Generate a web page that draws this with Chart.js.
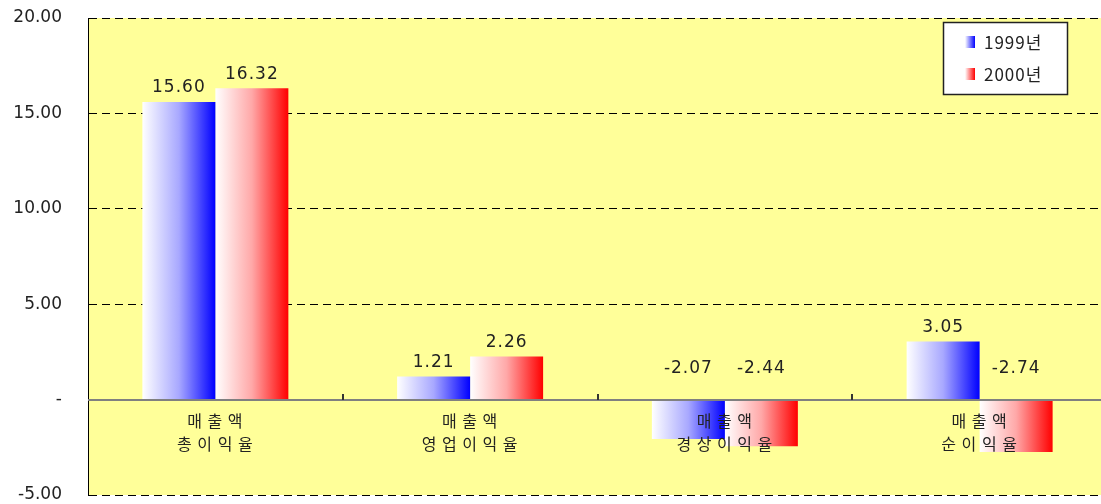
<!DOCTYPE html>
<html>
<head>
<meta charset="utf-8">
<script src="https://cdn.jsdelivr.net/npm/chart.js@4/dist/chart.umd.min.js"></script>
<style>
  html, body { margin: 0; padding: 0; background: #ffffff; overflow: hidden; }
  #wrap { width: 1108px; height: 504px; }
</style>
</head>
<body>
<div id="wrap"><canvas id="grafica"></canvas></div>
<script>
// 매출액 대비 이익율 (1999년 / 2000년)
const categorias = [
  ["매 출 액", "총 이 익 율"],
  ["매 출 액", "영 업 이 익 율"],
  ["매 출 액", "경 상 이 익 율"],
  ["매 출 액", "순 이 익 율"]
];
const series_nombres = ["1999년", "2000년"];
const valores_1999 = [15.60, 1.21, -2.07, 3.05];
const valores_2000 = [16.32, 2.26, -2.44, -2.74];
const colores = ["#0000ff", "#ff0000"];
const medios = ["#a8a8ff", "#ffa8a8"];

const catPct = 0.573;
const fuenteNum = "DejaVu Sans";
const fuenteKr = "'Noto Sans CJK KR', 'DejaVu Sans'";

// degradado horizontal blanco -> color para cada barra
function rellenoBarra(ctx) {
  const color = colores[ctx.datasetIndex];
  const chart = ctx.chart;
  const x = chart.scales.x;
  if (!x || ctx.type !== 'data') return color;
  const centro = x.getPixelForValue(ctx.dataIndex);
  const w = (x.width / categorias.length) * catPct / 2;
  if (!isFinite(centro) || !isFinite(w) || w <= 0) return color;
  const izq = ctx.datasetIndex === 0 ? centro - w : centro;
  const g = chart.ctx.createLinearGradient(izq, 0, izq + w, 0);
  g.addColorStop(0, "#ffffff");
  g.addColorStop(0.5, medios[ctx.datasetIndex]);
  g.addColorStop(1, color);
  return g;
}

const fondoAmarillo = {
  id: 'fondoAmarillo',
  beforeDraw(chart) {
    const { ctx, chartArea: a } = chart;
    ctx.save();
    ctx.fillStyle = "#ffff99";
    ctx.fillRect(a.left, a.top, a.right - a.left, a.bottom - a.top);
    ctx.restore();
  }
};

// linea de cero, nombres de categoria, valores, marcas y leyenda
const extras = {
  id: 'extras',
  afterDraw(chart) {
    const { ctx, chartArea: a } = chart;
    const x = chart.scales.x;
    const y = chart.scales.y;
    const cero = Math.round(y.getPixelForValue(0));
    ctx.save();

    // linea de cero
    ctx.strokeStyle = "#808080";
    ctx.lineWidth = 2;
    ctx.beginPath();
    ctx.moveTo(a.left, cero);
    ctx.lineTo(a.right, cero);
    ctx.stroke();

    // marcas entre categorias
    ctx.strokeStyle = "#333333";
    for (let i = 1; i < categorias.length; i++) {
      const px = Math.round(x.getPixelForValue(i - 0.5));
      ctx.beginPath();
      ctx.moveTo(px, cero - 6);
      ctx.lineTo(px, cero);
      ctx.stroke();
    }

    // nombres de categoria (encima de las barras)
    ctx.font = "16px " + fuenteKr;
    ctx.fillStyle = "#222222";
    ctx.textAlign = "center";
    ctx.textBaseline = "middle";
    ctx.letterSpacing = "1px";
    categorias.forEach((lineas, i) => {
      const cx = x.getPixelForValue(i);
      lineas.forEach((t, j) => ctx.fillText(t, cx, cero + 21 + j * 23));
    });

    // valores sobre las barras
    ctx.font = "17px " + fuenteNum;
    chart.data.datasets.forEach((ds, di) => {
      const meta = chart.getDatasetMeta(di);
      meta.data.forEach((bar, i) => {
        const v = ds.data[i];
        const ty = v >= 0 ? bar.y - 14 : cero - 31;
        ctx.fillText(v.toFixed(2), bar.x, ty);
      });
    });

    // leyenda
    const lx = 943, ly = 22, lw = 124, lh = 72;
    ctx.fillStyle = "#ffffff";
    ctx.fillRect(lx, ly, lw, lh);
    ctx.strokeStyle = "#222222";
    ctx.lineWidth = 1.5;
    ctx.strokeRect(lx + 0.5, ly + 0.5, lw, lh);
    series_nombres.forEach((nombre, i) => {
      const cy = ly + 20 + i * 32;
      const g = ctx.createLinearGradient(965, 0, 975, 0);
      g.addColorStop(0, "#ffffff");
      g.addColorStop(1, colores[i]);
      ctx.fillStyle = g;
      ctx.fillRect(965, cy - 6, 10, 12);
      ctx.fillStyle = "#222222";
      ctx.textAlign = "left";
      ctx.font = "17px " + fuenteKr;
      ctx.letterSpacing = "1px";
      ctx.fillText(nombre, 984, cy + 1);
    });
    ctx.restore();
  }
};

new Chart(document.getElementById('grafica').getContext('2d'), {
  type: 'bar',
  data: {
    labels: categorias,
    datasets: [
      { label: series_nombres[0], data: valores_1999, backgroundColor: rellenoBarra },
      { label: series_nombres[1], data: valores_2000, backgroundColor: rellenoBarra }
    ]
  },
  options: {
    responsive: true,
    maintainAspectRatio: false,
    animation: false,
    categoryPercentage: catPct,
    barPercentage: 1,
    layout: { padding: { left: 0, right: 1, top: 18, bottom: 9 } },
    plugins: { legend: { display: false }, tooltip: { enabled: false } },
    scales: {
      x: {
        display: false
      },
      y: {
        min: -5,
        max: 20,
        afterFit: (s) => { s.width = 88; s.paddingTop = 0; s.paddingBottom = 0; },
        grid: {
          color: (c) => c.tick && c.tick.value === 0 ? "rgba(0,0,0,0)" : "#000000",
          lineWidth: 1,
          drawTicks: false
        },
        border: { display: true, color: "#000000", width: 1, dash: [8, 5] },
        ticks: {
          stepSize: 5,
          padding: 26,
          color: "#222222",
          font: { family: fuenteNum, size: 17 },
          callback: (v) => v === 0 ? "-" : v.toFixed(2)
        }
      }
    }
  },
  plugins: [fondoAmarillo, extras]
});
</script>
</body>
</html>
